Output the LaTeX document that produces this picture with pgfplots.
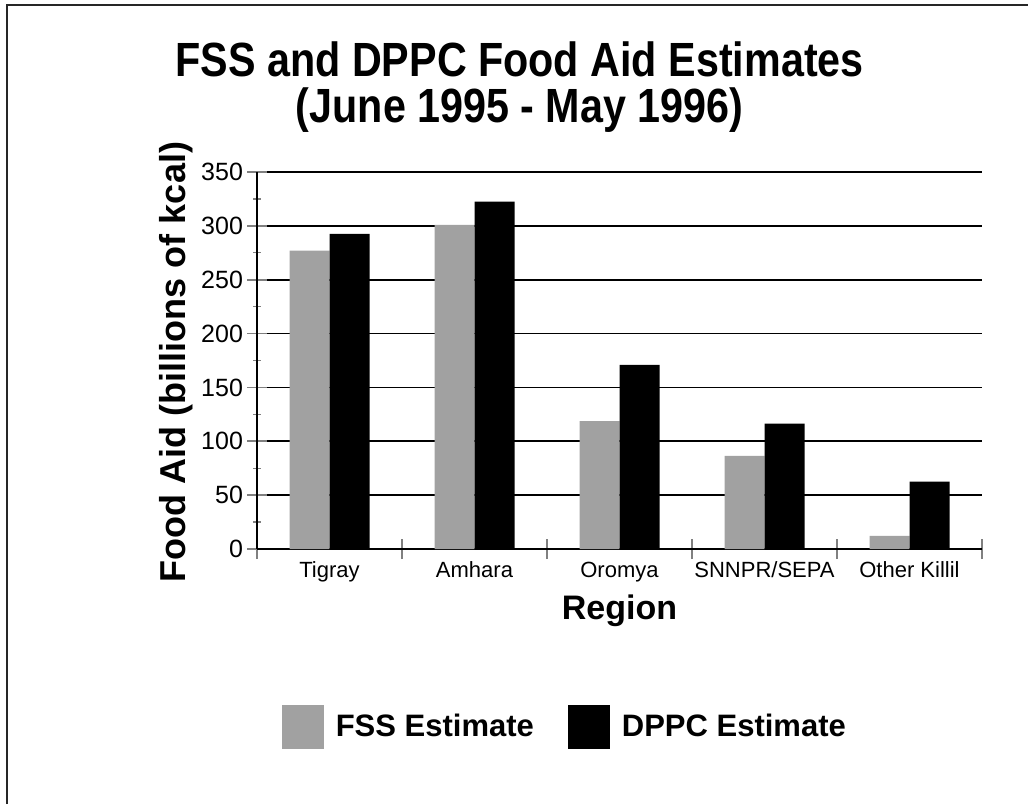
\documentclass[border=0pt]{standalone}
\usepackage{fontspec}
\setmainfont{Liberation Sans}
\newfontfamily\titlefont[FakeStretch=0.86]{Liberation Sans}
\usepackage{pgfplots}
\usepackage{pgfplotstable}
\pgfplotsset{compat=1.18}

% Food aid estimates by region (billions of kcal)
\pgfplotstableread{
idx fss   dppc
0   277   292.6
1   301   322.5
2   118.8 171
3   86.4  116.3
4   12.3  62.6
}\foodaid

\begin{document}
\begin{tikzpicture}
\path[use as bounding box] (0pt,0pt) rectangle (514pt,402pt);
% slide frame
\draw[line width=1.2pt, black!85] (3.5pt,0pt) -- (3.5pt,399.5pt) -- (514pt,399.5pt);
% title
\node[anchor=center, inner sep=0pt, align=center, font=\titlefont\fontsize{24}{23}\selectfont\bfseries] at (259.8pt,358.3pt) {FSS and DPPC Food Aid Estimates\\(June 1995 - May 1996)};
\begin{axis}[
  at={(128.5pt,127.5pt)}, anchor=south west,
  width=362.5pt, height=188.5pt, scale only axis,
  xmin=-0.5, xmax=4.5, ymin=0, ymax=350,
  ybar=0pt, bar width=20pt,
  axis x line=bottom, axis y line=left,
  axis line style={-, black, line width=0.8pt},
  xtick={-0.5,0.5,1.5,2.5,3.5,4.5},
  x tick label as interval,
  xticklabels={Tigray,Amhara,Oromya,SNNPR/SEPA,Other Killil},
  ytick={0,50,...,350},
  minor ytick={25,75,...,325},
  tick align=center,
  major tick length=10pt,
  minor tick length=4pt,
  tick style={line width=0.8pt},
  xtick style={gray},
  minor tick style={gray, line width=0.6pt},
  ymajorgrids,
  major grid style={black, line width=0.8pt},
  /pgf/number format/assume math mode=true,
  yticklabel style={font=\fontsize{12.5}{15}\selectfont, xshift=1.5pt},
  xticklabel style={font=\fontsize{11}{13}\selectfont, anchor=north, text height=8pt, text depth=2.5pt, yshift=2.5pt},
  xlabel={Region},
  ylabel={Food Aid (billions of kcal)},
  xlabel style={font=\fontsize{17}{20}\selectfont\bfseries, at={(axis description cs:0.5,-0.164)}, anchor=center},
  ylabel style={font=\fontsize{18}{22}\selectfont\bfseries, at={(axis description cs:-0.111,0.496)}, anchor=center},
  legend columns=2,
  legend style={draw=none, fill=none, at={(axis description cs:0.426,-0.472)}, anchor=center,
    font=\fontsize{15.5}{18}\selectfont\bfseries,
    /tikz/every odd column/.append style={column sep=4pt},
    /tikz/every even column/.append style={column sep=15pt}},
  legend image code/.code={\fill[#1] (0pt,-11pt) rectangle (21pt,11pt);},
]
\addplot[fill=black!37, draw=none] table[x=idx,y=fss]{\foodaid};
\addplot[fill=black, draw=none] table[x=idx,y=dppc]{\foodaid};
\legend{FSS Estimate, DPPC Estimate}
\end{axis}
\end{tikzpicture}
\end{document}
